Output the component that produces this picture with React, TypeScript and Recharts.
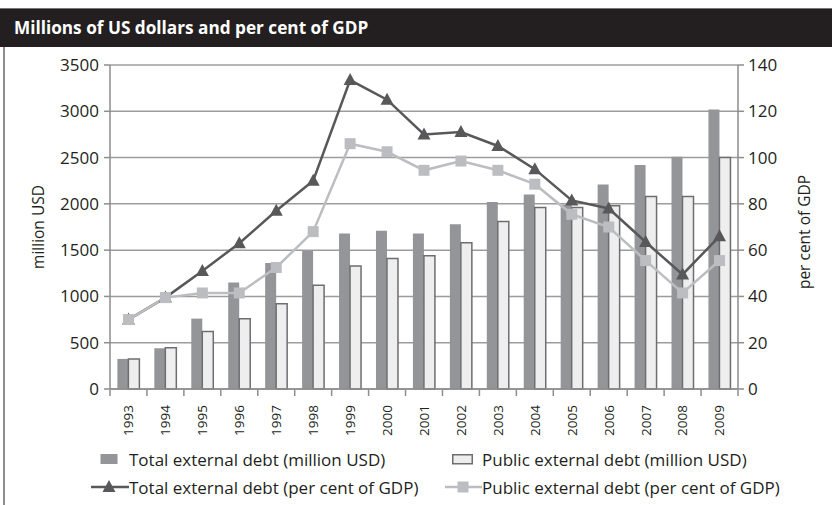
import { ComposedChart, Bar, Line, XAxis, YAxis, CartesianGrid, Legend, Label } from 'recharts';

const years = ['1993', '1994', '1995', '1996', '1997', '1998', '1999', '2000', '2001', '2002', '2003', '2004', '2005', '2006', '2007', '2008', '2009'];
const totalDebtUsd = [325, 440, 760, 1150, 1360, 1490, 1680, 1710, 1680, 1780, 2020, 2100, 1990, 2210, 2420, 2510, 3020];
const publicDebtUsd = [325, 445, 620, 760, 920, 1120, 1330, 1410, 1440, 1580, 1810, 1960, 1960, 1980, 2080, 2080, 2500];
const totalDebtPct = [30, 39.5, 51, 63, 77, 90, 133.5, 125, 110, 111, 105, 95, 81.5, 78, 63.5, 49.5, 66];
const publicDebtPct = [30, 39.5, 41.5, 41.5, 52.5, 68, 106, 102.5, 94.5, 98.5, 94.5, 88.5, 75.5, 70, 55.5, 41.5, 55.5];

const usdTicks = [0, 500, 1000, 1500, 2000, 2500, 3000, 3500];
const pctTicks = [0, 20, 40, 60, 80, 100, 120, 140];

const names = {
  totalUsd: 'Total external debt (million USD)',
  publicUsd: 'Public external debt (million USD)',
  totalPct: 'Total external debt (per cent of GDP)',
  publicPct: 'Public external debt (per cent of GDP)',
};

const data = years.map((year, i) => ({
  year,
  totalUsd: totalDebtUsd[i],
  publicUsd: publicDebtUsd[i],
  totalPct: totalDebtPct[i],
  publicPct: publicDebtPct[i],
}));

const FONT = '"Open Sans", sans-serif';
const TEXT = '#231f20';
const AXIS = '#8d8d8d';
const DARK_BAR = '#939598';
const LIGHT_BAR = '#eeeeee';
const LIGHT_EDGE = '#6d6e71';
const TRI = '#58585a';
const SQ = '#bcbdc0';

const triPath = (cx: number, cy: number) => `M${cx},${cy - 7} L${cx + 6.5},${cy + 5} L${cx - 6.5},${cy + 5} Z`;

const TriDot = (p: any) => <path key={`t${p.index}`} d={triPath(p.cx, p.cy)} fill={TRI} />;
const SqDot = (p: any) => <rect key={`s${p.index}`} x={p.cx - 5.5} y={p.cy - 5.5} width={11} height={11} fill={SQ} />;

const YearTick = (props: any) => {
  const { x, y, payload, index, visibleTicksCount } = props;
  const half = payload.offset || 0;
  const ty = y + 8;
  return (
    <g>
      <line x1={x - half} y1={y - 7} x2={x - half} y2={y - 1} stroke={AXIS} strokeWidth={1.5} />
      {index === visibleTicksCount - 1 && (
        <line x1={x + half} y1={y - 7} x2={x + half} y2={y - 1} stroke={AXIS} strokeWidth={1.5} />
      )}
      <text x={x} y={ty} dy="0.36em" textAnchor="end" transform={`rotate(-90 ${x} ${ty})`} fontSize={13.5} fontFamily={FONT} fill={TEXT}>
        {payload.value}
      </text>
    </g>
  );
};

// swatch boxes: column 1 is 38px wide, column 2 is 37px wide
const swatch = (key: string) => {
  if (key === 'totalUsd') return <rect x={9.5} y={5} width={17} height={10} fill={DARK_BAR} />;
  if (key === 'publicUsd') return <rect x={7.75} y={5.75} width={19.5} height={9} fill={LIGHT_BAR} stroke={LIGHT_EDGE} strokeWidth={1.5} />;
  if (key === 'totalPct')
    return (
      <g>
        <line x1={0} y1={10} x2={38} y2={10} stroke={TRI} strokeWidth={2.5} />
        <path d={triPath(18, 10)} fill={TRI} />
      </g>
    );
  return (
    <g>
      <line x1={0} y1={10} x2={37} y2={10} stroke={SQ} strokeWidth={2.5} />
      <rect x={12.5} y={4.5} width={11} height={11} fill={SQ} />
    </g>
  );
};

const LegendBox = (props: any) => {
  const byKey: Record<string, any> = {};
  (props.payload || []).forEach((p: any) => {
    byKey[p.dataKey] = p;
  });
  const rows = [
    ['totalUsd', 'publicUsd'],
    ['totalPct', 'publicPct'],
  ];
  return (
    <div style={{ position: 'relative', width: 832, height: 56, fontFamily: FONT, fontSize: 17, color: TEXT }}>
      {rows.map((row, r) =>
        row.map((key, c) => {
          const item = byKey[key];
          if (!item) return null;
          return (
            <div key={key} style={{ position: 'absolute', left: c ? 445 : 91, top: r * 28, height: 20, display: 'flex', alignItems: 'center', whiteSpace: 'nowrap' }}>
              <svg width={c ? 37 : 38} height={20}>{swatch(key)}</svg>
              <span>{item.value}</span>
            </div>
          );
        })
      )}
    </div>
  );
};

export default function App() {
  return (
    <div style={{ position: 'absolute', left: 0, top: 0, width: 832, height: 505, background: '#fff', overflow: 'hidden' }}>
      <div style={{ position: 'absolute', left: 0, top: 8, width: 832, height: 38, background: TEXT, borderTop: '1px solid #777' }}>
        <div style={{ position: 'absolute', left: 14, top: 0, height: 38, lineHeight: '38px', color: '#fff', fontFamily: FONT, fontWeight: 700, fontSize: 17.2 }}>
          Millions of US dollars and per cent of GDP
        </div>
      </div>
      <div style={{ position: 'absolute', left: 3, top: 47, width: 1.5, height: 460, background: AXIS }} />
      <div style={{ position: 'absolute', left: 0, top: 0 }}>
        <ComposedChart width={832} height={505} data={data} margin={{ top: 65, right: 4, bottom: 66, left: 10 }} barCategoryGap="20%" barGap={0}>
          <CartesianGrid vertical={false} yAxisId="usd" stroke="#9c9c9c" strokeWidth={1.5} />
          <XAxis dataKey="year" height={50} interval={0} tickLine={false} axisLine={{ stroke: AXIS, strokeWidth: 1.5 }} tick={<YearTick />} />
          <YAxis
            yAxisId="usd"
            width={100}
            domain={[0, 3500]}
            ticks={usdTicks}
            interval={0}
            tickSize={6}
            tickMargin={5}
            axisLine={{ stroke: AXIS, strokeWidth: 1.5 }}
            tickLine={{ stroke: AXIS, strokeWidth: 1.5 }}
            tick={{ fontSize: 17, fontFamily: FONT, fill: TEXT }}
          >
            <Label
              content={() => (
                <text x={38} y={227} transform="rotate(-90 38 227)" textAnchor="middle" dominantBaseline="central" fontSize={15.5} fontFamily={FONT} fill={TEXT}>
                  million USD
                </text>
              )}
            />
          </YAxis>
          <YAxis
            yAxisId="pct"
            orientation="right"
            width={90}
            domain={[0, 140]}
            ticks={pctTicks}
            interval={0}
            tickSize={6}
            tickMargin={4}
            axisLine={{ stroke: AXIS, strokeWidth: 1.5 }}
            tickLine={{ stroke: AXIS, strokeWidth: 1.5 }}
            tick={{ fontSize: 17, fontFamily: FONT, fill: TEXT }}
          >
            <Label
              content={() => (
                <text x={804} y={232} transform="rotate(-90 804 232)" textAnchor="middle" dominantBaseline="central" fontSize={15.5} fontFamily={FONT} fill={TEXT}>
                  per cent of GDP
                </text>
              )}
            />
          </YAxis>
          <Bar yAxisId="usd" dataKey="totalUsd" name={names.totalUsd} fill={DARK_BAR} isAnimationActive={false} />
          <Bar yAxisId="usd" dataKey="publicUsd" name={names.publicUsd} fill={LIGHT_BAR} stroke={LIGHT_EDGE} strokeWidth={1.5} isAnimationActive={false} />
          <Line yAxisId="pct" dataKey="totalPct" name={names.totalPct} stroke={TRI} strokeWidth={2.5} dot={TriDot} activeDot={false} isAnimationActive={false} />
          <Line yAxisId="pct" dataKey="publicPct" name={names.publicPct} stroke={SQ} strokeWidth={2.5} dot={SqDot} activeDot={false} isAnimationActive={false} />
          <Legend layout="horizontal" verticalAlign="middle" content={<LegendBox />} wrapperStyle={{ position: 'absolute', left: 0, top: 449, width: 832 }} />
        </ComposedChart>
      </div>
    </div>
  );
}
